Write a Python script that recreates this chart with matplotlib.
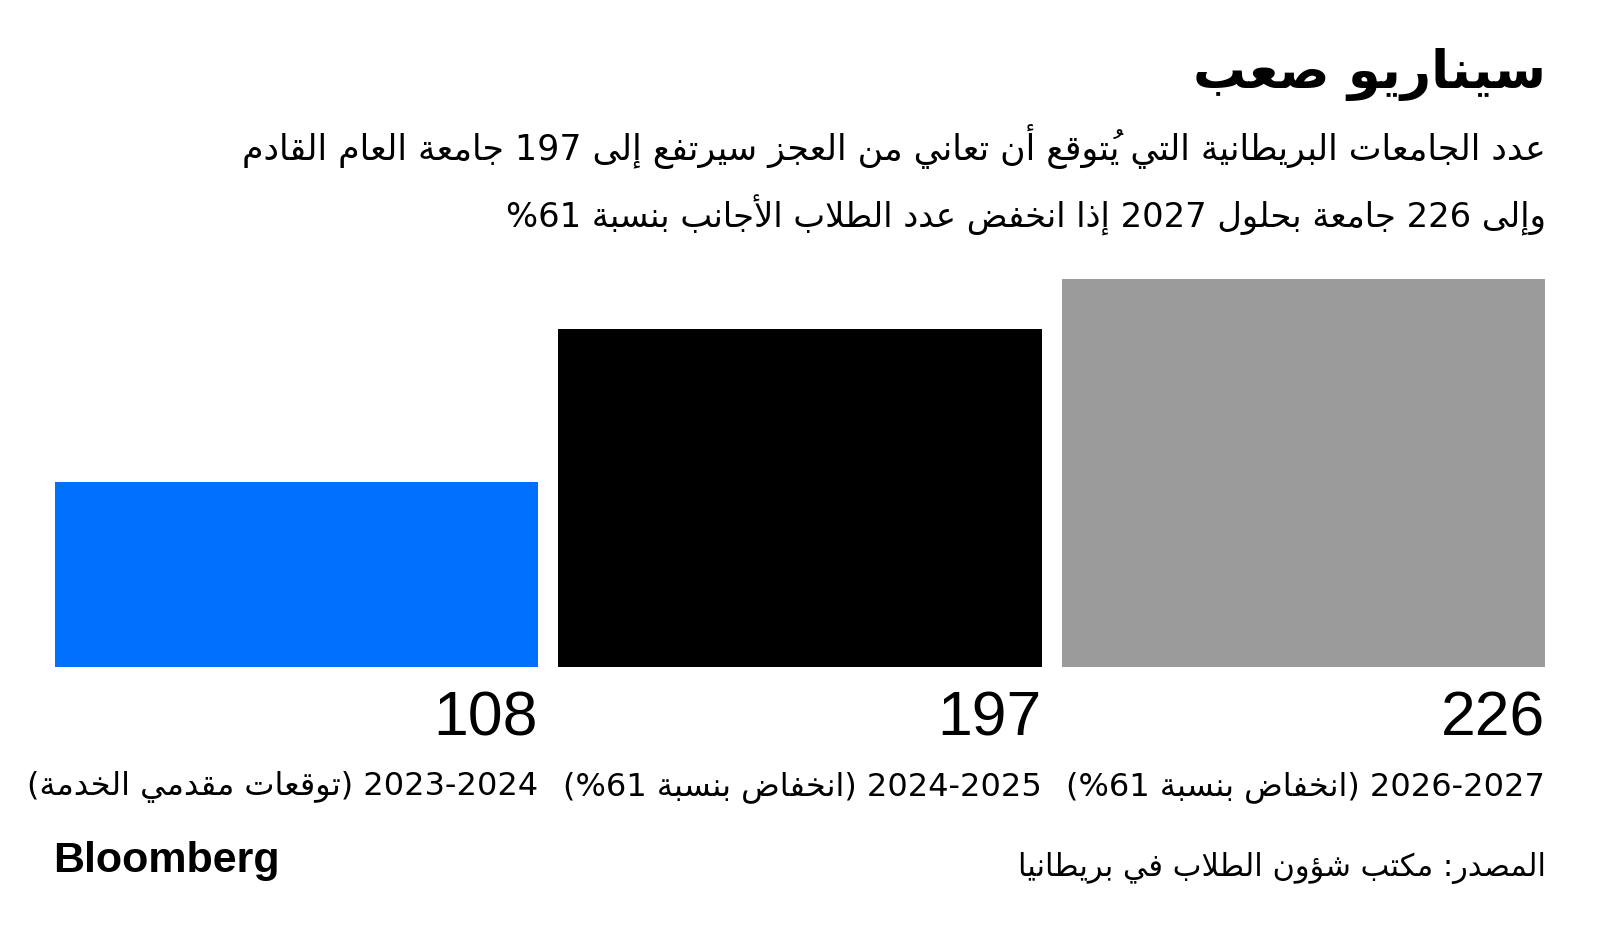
import matplotlib
matplotlib.use('Agg')
import matplotlib.pyplot as plt

# data
periods = ['2023-2024 (توقعات مقدمي الخدمة)',
           '2024-2025 (انخفاض بنسبة 61%)',
           '2026-2027 (انخفاض بنسبة 61%)']
universities = [108, 197, 226]
bar_colors = ['#0070ff', '#000000', '#9b9b9b']

title = 'سيناريو صعب'
subtitle1 = 'عدد الجامعات البريطانية التي يُتوقع أن تعاني من العجز سيرتفع إلى 197 جامعة العام القادم'
subtitle2 = 'وإلى 226 جامعة بحلول 2027 إذا انخفض عدد الطلاب الأجانب بنسبة 61%'
source = 'المصدر: مكتب شؤون الطلاب في بريطانيا'


# --- minimal arabic shaping + rtl ordering (matplotlib has none) ---
_counts = ([(0x621, 1), (0x622, 2), (0x623, 2), (0x624, 2), (0x625, 2), (0x626, 4),
            (0x627, 2), (0x628, 4), (0x629, 2)]
           + [(c, 4) for c in range(0x62A, 0x62F)]
           + [(c, 2) for c in range(0x62F, 0x633)]
           + [(c, 4) for c in range(0x633, 0x63B)]
           + [(c, 4) for c in range(0x641, 0x648)]
           + [(0x648, 2), (0x649, 2), (0x64A, 4)])
FORMS = {}
code = 0xFE80
for c, n in _counts:
    FORMS[chr(c)] = [chr(code + k) for k in range(n)]
    code += n
LAM_ALEF = {'\u0622': 0xFEF5, '\u0623': 0xFEF7, '\u0625': 0xFEF9, '\u0627': 0xFEFB}
MARKS = set(chr(c) for c in range(0x64B, 0x653))
MIRROR = {'(': ')', ')': '('}


def dual(b):
    return b in FORMS and len(FORMS[b]) == 4


def joinable(b):
    return (len(b) == 2) or (b in FORMS and len(FORMS[b]) >= 2)


def rtl(s):
    cl = []
    for ch in s:
        if ch in MARKS and cl:
            cl[-1][1] += ch
        elif cl and cl[-1][0] == '\u0644' and not cl[-1][1] and ch in LAM_ALEF:
            cl[-1][0] = '\u0644' + ch   # lam-alef ligature
        else:
            cl.append([ch, ''])
    n = len(cl)
    glyphs = []
    for i, (b, m) in enumerate(cl):
        prev = i > 0 and dual(cl[i - 1][0]) and joinable(b)
        nxt = i < n - 1 and dual(b) and joinable(cl[i + 1][0])
        if len(b) == 2:
            g = chr(LAM_ALEF[b[1]] + (1 if prev else 0))
        elif b in FORMS:
            f = FORMS[b]
            if prev and nxt:
                g = f[3]
            elif prev:
                g = f[1]
            elif nxt and len(f) == 4:
                g = f[2]
            else:
                g = f[0]
        else:
            g = b
        ltr = b.isascii() and b.isalnum()
        if b in '-.,' and 0 < i < n - 1 and cl[i - 1][0].isdigit() and cl[i + 1][0].isdigit():
            ltr = True
        glyphs.append((g, m, ltr))
    # group into runs, reverse runs, reverse rtl runs
    runs = []
    for g in glyphs:
        if runs and runs[-1][0] == g[2]:
            runs[-1][1].append(g)
        else:
            runs.append([g[2], [g]])
    out = ''
    for ltr, items in reversed(runs):
        if ltr:
            out += ''.join(g + m for g, m, _ in items)
        else:
            # mark drawn first so it sits over its base letter
            out += ''.join(m + MIRROR.get(g, g) for g, m, _ in reversed(items))
    return out


plt.rcParams['font.family'] = 'DejaVu Sans'

W, H = 1600, 938
fig = plt.figure(figsize=(W / 100, H / 100), dpi=100)
fig.patch.set_facecolor('white')


def fx(x):
    return x / W


def fy(y):
    return 1 - y / H


# bars
ax = fig.add_axes([fx(55), fy(667), fx(1545) - fx(55), fy(279) - fy(667)])
w = 0.96
x = range(len(universities))
ax.bar(x, universities, width=w, color=bar_colors)
ax.set_xlim(-w / 2, len(universities) - 1 + w / 2)
ax.set_ylim(0, max(universities))
ax.axis('off')

for i, (v, p) in enumerate(zip(universities, periods)):
    ax.annotate(str(v), xy=(i + w / 2, 0), xytext=(0, -68), textcoords='offset pixels',
                ha='right', va='baseline', fontsize=45, family='Liberation Sans',
                annotation_clip=False)
    ax.annotate(rtl(p), xy=(i + w / 2, 0), xytext=(0, -128), textcoords='offset pixels',
                ha='right', va='baseline', fontsize=23, annotation_clip=False)

# titles
fig.text(fx(1546), fy(88), rtl(title), ha='right', va='baseline', fontsize=38, fontweight='heavy')
fig.text(fx(1546), fy(160), rtl(subtitle1), ha='right', va='baseline', fontsize=25)
fig.text(fx(1546), fy(228), rtl(subtitle2), ha='right', va='baseline', fontsize=24.3)

# footer
fig.text(fx(1546), fy(876), rtl(source), ha='right', va='baseline', fontsize=22)
fig.text(fx(53), fy(872), 'Bloomberg', ha='left', va='baseline', fontsize=31,
         fontweight='bold', family='Liberation Sans')

fig.savefig('out.png', dpi=100, facecolor='white')
